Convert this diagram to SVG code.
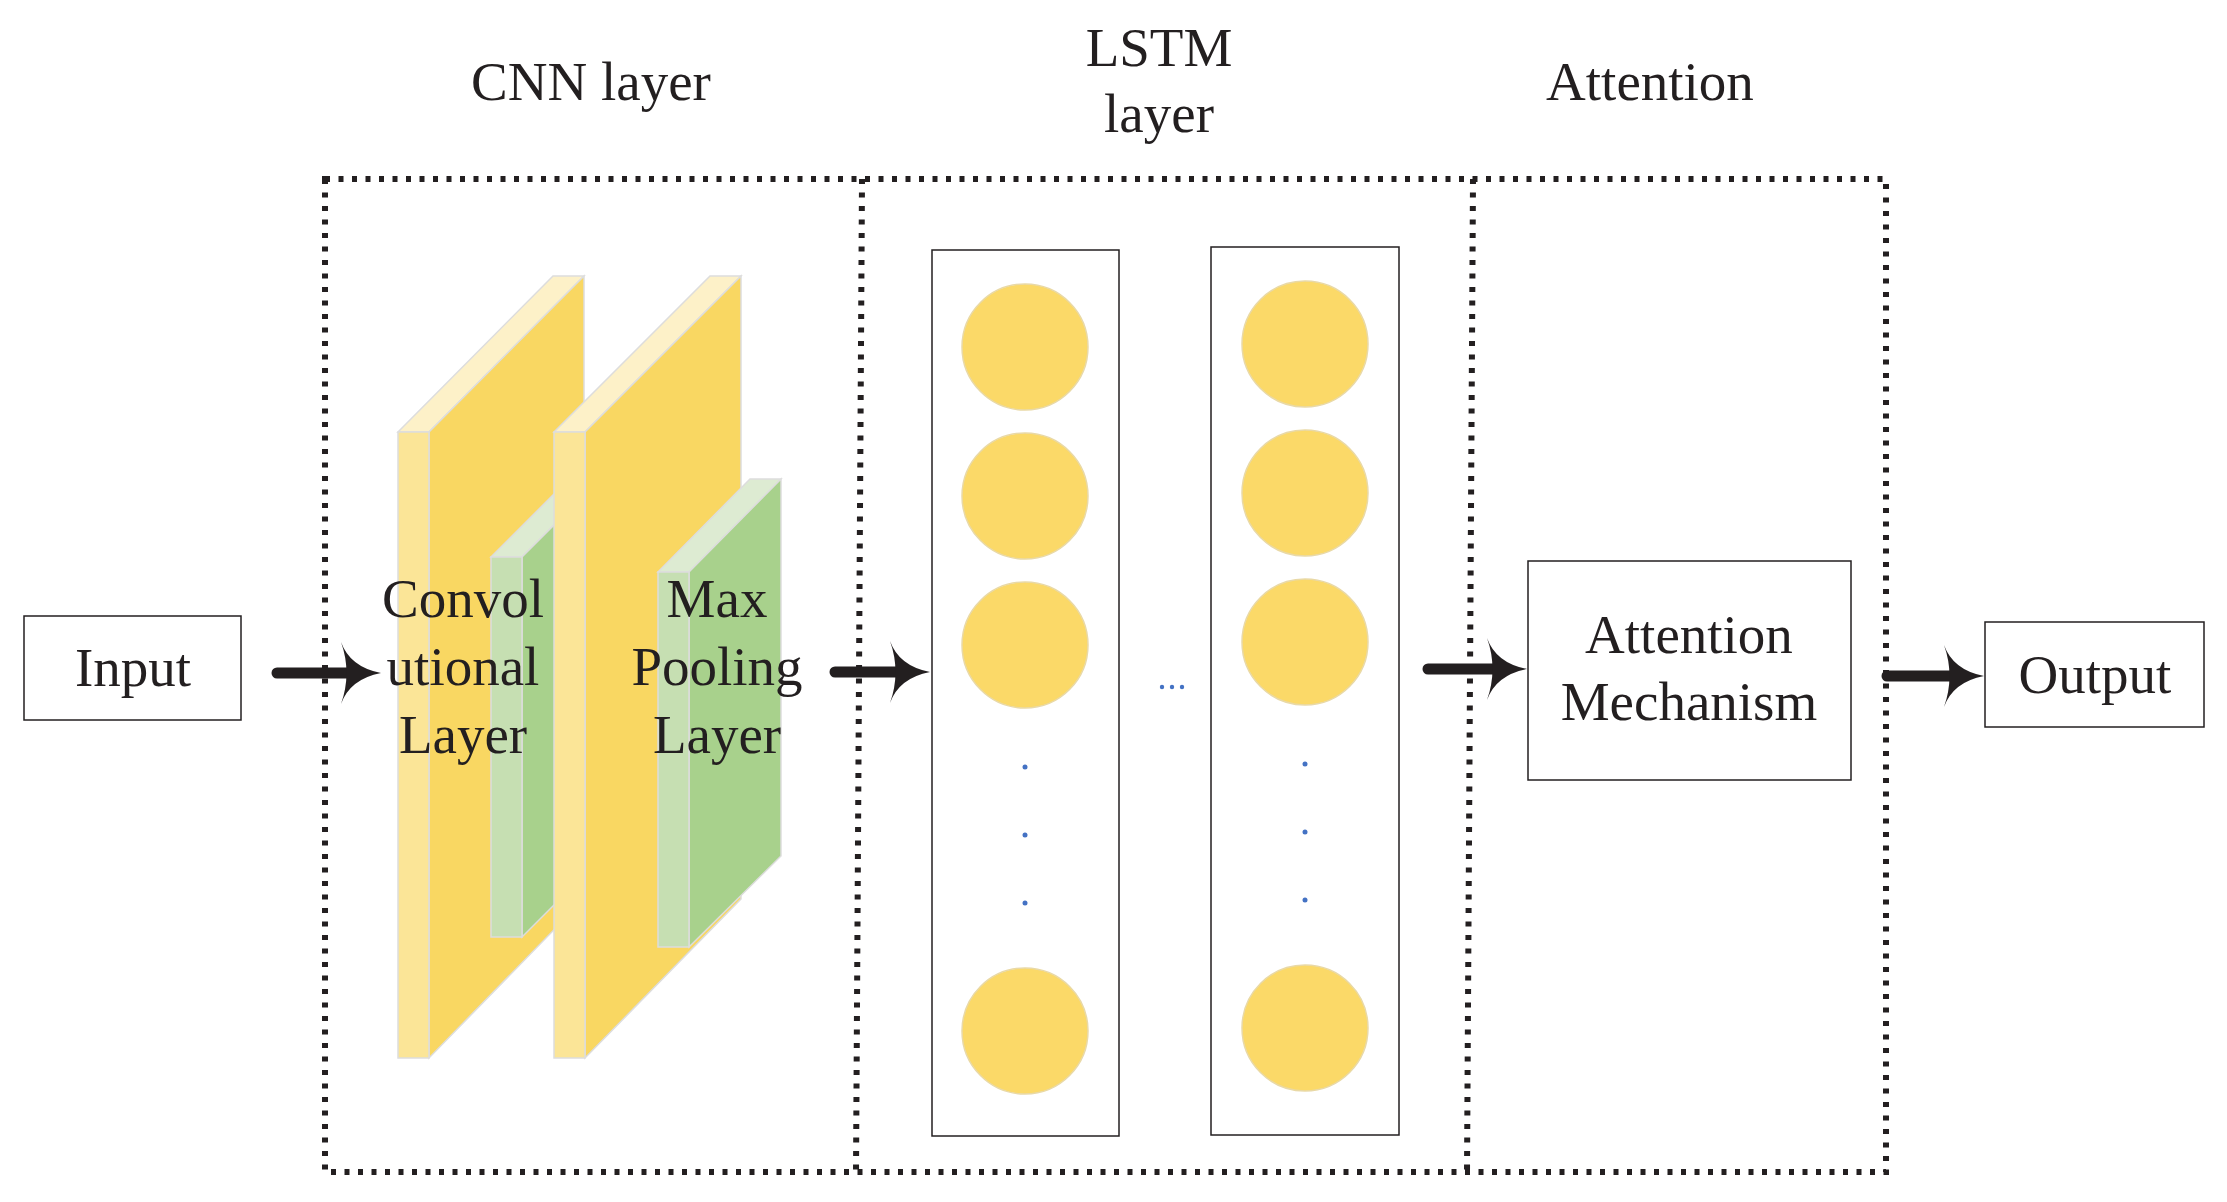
<svg xmlns="http://www.w3.org/2000/svg" width="2227" height="1202" viewBox="0 0 2227 1202">
<style>
text{font-family:"Liberation Serif","Times New Roman",serif;font-size:55px;fill:#231f20;text-anchor:middle}
.box{fill:#fff;stroke:#231f20;stroke-width:1.5}
.dot{fill:none;stroke:#231f20;stroke-width:6;stroke-dasharray:5 8.5}
.c{fill:#FBD968;stroke:#E9D9A6;stroke-width:1.5}
.b{fill:#4472C4}
.ys{fill:#FBE597;stroke:#ddd;stroke-width:1.5}
.yt{fill:#FDF1C8;stroke:#ddd;stroke-width:1.5}
.ym{fill:#F9D762;stroke:#ddd;stroke-width:1.5}
.gs{fill:#C6DFB2;stroke:#ddd;stroke-width:1.5}
.gt{fill:#DDEBD2;stroke:#ddd;stroke-width:1.5}
.gm{fill:#A8D18C;stroke:#ddd;stroke-width:1.5}
.ln{stroke:#231f20;stroke-width:11;stroke-linecap:round}
.ah{fill:#231f20}
</style>
<g id="frames">
<rect class="dot" x="325" y="179" width="1561" height="993"/>
<line class="dot" x1="862" y1="179" x2="856" y2="1172"/>
<line class="dot" x1="1473" y1="179" x2="1467" y2="1172"/>
</g>
<g id="titles">
<text x="591" y="100">CNN layer</text>
<text x="1159" y="66">LSTM</text>
<text x="1159" y="132">layer</text>
<text x="1650" y="100">Attention</text>
</g>
<g id="input"><rect class="box" x="24" y="616" width="217" height="104"/><text x="133" y="686">Input</text></g>
<g id="conv">
<polygon class="yt" points="398,432 429,432 584,276 553,276"/>
<polygon class="ym" points="429,432 584,276 584,899 429,1058"/>
<rect class="ys" x="398" y="432" width="31" height="626"/>
<polygon class="gt" points="491,557 522,557 614,465 583,465"/>
<polygon class="gm" points="522,557 614,465 614,845 522,937"/>
<rect class="gs" x="491" y="557" width="31" height="380"/>
</g>
<g id="pool">
<polygon class="yt" points="554,432 585,432 741,276 710,276"/>
<polygon class="ym" points="585,432 741,276 741,899 585,1058"/>
<rect class="ys" x="554" y="432" width="31" height="626"/>
<polygon class="gt" points="658,572 689,572 781,479 750,479"/>
<polygon class="gm" points="689,572 781,479 781,856 689,947"/>
<rect class="gs" x="658" y="572" width="31" height="375"/>
</g>
<g id="conv-label"><text x="463" y="617">Convol</text><text x="463" y="685">utional</text><text x="463" y="753">Layer</text></g>
<g id="pool-label"><text x="717" y="617">Max</text><text x="717" y="685">Pooling</text><text x="717" y="753">Layer</text></g>
<g id="lstm1">
<rect class="box" x="932" y="250" width="187" height="886"/>
<ellipse class="c" cx="1025" cy="347" rx="63" ry="63"/>
<ellipse class="c" cx="1025" cy="496" rx="63" ry="63"/>
<ellipse class="c" cx="1025" cy="645" rx="63" ry="63"/>
<ellipse class="c" cx="1025" cy="1031" rx="63" ry="63"/>
<circle class="b" cx="1025" cy="767" r="2.5"/><circle class="b" cx="1025" cy="835" r="2.5"/><circle class="b" cx="1025" cy="903" r="2.5"/>
</g>
<g id="ellipsis"><circle class="b" cx="1162" cy="687" r="2.2"/><circle class="b" cx="1172" cy="687" r="2.2"/><circle class="b" cx="1182" cy="687" r="2.2"/></g>
<g id="lstm2">
<rect class="box" x="1211" y="247" width="188" height="888"/>
<ellipse class="c" cx="1305" cy="344" rx="63" ry="63"/>
<ellipse class="c" cx="1305" cy="493" rx="63" ry="63"/>
<ellipse class="c" cx="1305" cy="642" rx="63" ry="63"/>
<ellipse class="c" cx="1305" cy="1028" rx="63" ry="63"/>
<circle class="b" cx="1305" cy="764" r="2.5"/><circle class="b" cx="1305" cy="832" r="2.5"/><circle class="b" cx="1305" cy="900" r="2.5"/>
</g>
<g id="attention"><rect class="box" x="1528" y="561" width="323" height="219"/><text x="1689" y="653">Attention</text><text x="1689" y="720">Mechanism</text></g>
<g id="output"><rect class="box" x="1985" y="622" width="219" height="105"/><text x="2095" y="693">Output</text></g>
<g id="connectors">
<line class="ln" x1="277" y1="673" x2="350" y2="673"/>
<path class="ah" d="M381,673 Q350,667 341,642 Q352,673 341,704 Q350,679 381,673 Z"/>
<line class="ln" x1="835" y1="672" x2="900" y2="672"/>
<path class="ah" d="M930,672 Q899,666 890,641 Q901,672 890,703 Q899,678 930,672 Z"/>
<line class="ln" x1="1428" y1="669" x2="1497" y2="669"/>
<path class="ah" d="M1527,669 Q1496,663 1487,638 Q1498,669 1487,700 Q1496,675 1527,669 Z"/>
<line class="ln" x1="1887" y1="676" x2="1954" y2="676"/>
<path class="ah" d="M1984,676 Q1953,670 1944,645 Q1955,676 1944,707 Q1953,682 1984,676 Z"/>
</g>
</svg>
